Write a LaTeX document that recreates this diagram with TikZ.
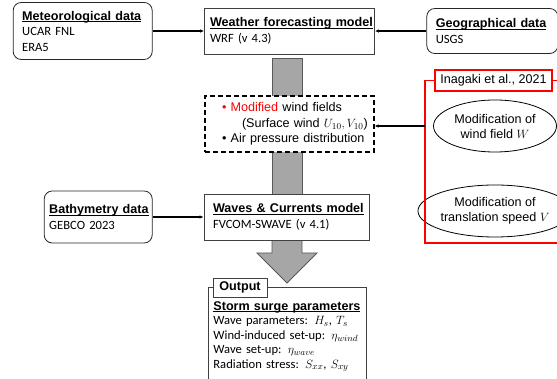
\documentclass[tikz,border=0pt]{standalone}
\usepackage{fontspec}
\setmainfont{Carlito}
\newfontfamily\arialfont{Liberation Sans}
\usetikzlibrary{shapes.geometric}
\usetikzlibrary{arrows.meta}
\usetikzlibrary{positioning}

% bold Arial title with a flat underline (crosses the descenders)
\newcommand{\boxtitle}[1]{{\arialfont\bfseries\setbox0\hbox{#1}\rlap{\copy0}\rule[-1.9pt]{\wd0}{0.9pt}}}

\begin{document}
\begin{tikzpicture}[x=1pt,y=-1pt,
  every node/.style={font=\fontsize{12.6}{15.5}\selectfont},
  databox/.style={rectangle,rounded corners=8pt,draw=black!85,line width=0.8pt,fill=white,align=left,inner ysep=2pt},
  modelbox/.style={rectangle,draw=black!75,line width=0.8pt,fill=white,align=left,inner ysep=2pt},
  refbubble/.style={ellipse,draw,line width=0.8pt,minimum width=123pt,minimum height=52pt,inner sep=0pt,align=center,font=\arialfont\fontsize{12.6}{15}\selectfont},
  feed/.style={-{Latex[length=4pt,width=3.5pt]},line width=1.2pt},
  bigarrow/.style={fill=black!35,draw=black!65,line width=0.8pt},
  redline/.style={red,line width=1.6pt}]
\useasboundingbox (0,0) rectangle (557,379);

% gray flow arrows (behind the boxes)
\draw[bigarrow] (272,58) rectangle (302,194);
\draw[bigarrow] (272,238) -- (272,253) -- (257,253) -- (287,283) -- (317,253) -- (302,253) -- (302,238) -- cycle;

\node[modelbox,text width=159pt,inner xsep=5.5pt,minimum height=46pt] (wrf) at (289.5,31) {\boxtitle{Weather forecasting model}\\WRF (v 4.3)};
\node[databox,left=51.5pt,at=(wrf.west),text width=121pt,inner xsep=9pt,minimum height=57pt] (met) {\boxtitle{Meteorological data}\\UCAR FNL\\ERA5};
\node[databox,right=51.5pt,at=(wrf.east),text width=113pt,inner xsep=9pt,minimum height=45pt] (geo) {\boxtitle{Geographical data}\\USGS};

\node[modelbox,dashed,dash pattern=on 5pt off 3pt,line width=1.2pt,draw=black,below=41pt,at=(wrf.south),text width=157pt,inner xsep=6pt,minimum height=56pt,font=\arialfont\fontsize{12.6}{15.5}\selectfont] (wind) {\hspace*{11pt}\textcolor{red}{\textbullet\ Modified} wind fields\\\mbox{\hspace*{31pt}(Surface wind $U_{10},V_{10}$)}\\\hspace*{11pt}\textbullet\ Air pressure distribution};

\node[modelbox,text width=147pt,inner xsep=9pt,minimum height=46pt] (waves) at (286.5,217) {\boxtitle{Waves \& Currents model}\\FVCOM-SWAVE (v 4.1)};
\node[databox,left=51pt,at=(waves.west),text width=98pt,inner xsep=5pt,minimum height=52pt] (bathy) {\boxtitle{Bathymetry data}\\GEBCO 2023};

\node[modelbox,anchor=north west,text width=148pt,inner xsep=5pt,inner ysep=14pt,font=\fontsize{12.6}{14.5}\selectfont] (out) at (208,287) {\boxtitle{Storm surge parameters}\\Wave parameters: $H_s$, $T_s$\\Wind-induced set-up: $\eta_{wind}$\\Wave set-up: $\eta_{wave}$\\Radiation stress: $S_{xx}$, $S_{xy}$};
\node[modelbox,minimum width=54pt,minimum height=19pt,inner sep=0pt,align=center,font=\arialfont\bfseries\fontsize{12.6}{15}\selectfont] (tab) at (240,287.5) {Output};

% Inagaki et al. bracket
\node[rectangle,draw=red,line width=1.6pt,fill=white,minimum width=117pt,minimum height=21pt,inner sep=0pt,font=\arialfont\fontsize{12.6}{15}\selectfont] (ina) at (493.5,80.5) {Inagaki et al., 2021};
\node[refbubble] (wfield) at (495,126) {Modification of\\wind field $W$};
\node[refbubble] (tspeed) at (495,211) {Modification of\\translation speed $V$};
\coordinate (brk) at (425,126);
\draw[redline] (ina.west) -| (brk) |- (557,243);
\draw[redline] (ina.east) -- ++(10,0);

\draw[feed] (met.east) -- (wrf.west);
\draw[feed] (geo.west) -- (wrf.east);
\draw[feed] (bathy.east) -- (waves.west);
\draw[feed] (brk) -- (brk -| wind.east);
\end{tikzpicture}
\end{document}
